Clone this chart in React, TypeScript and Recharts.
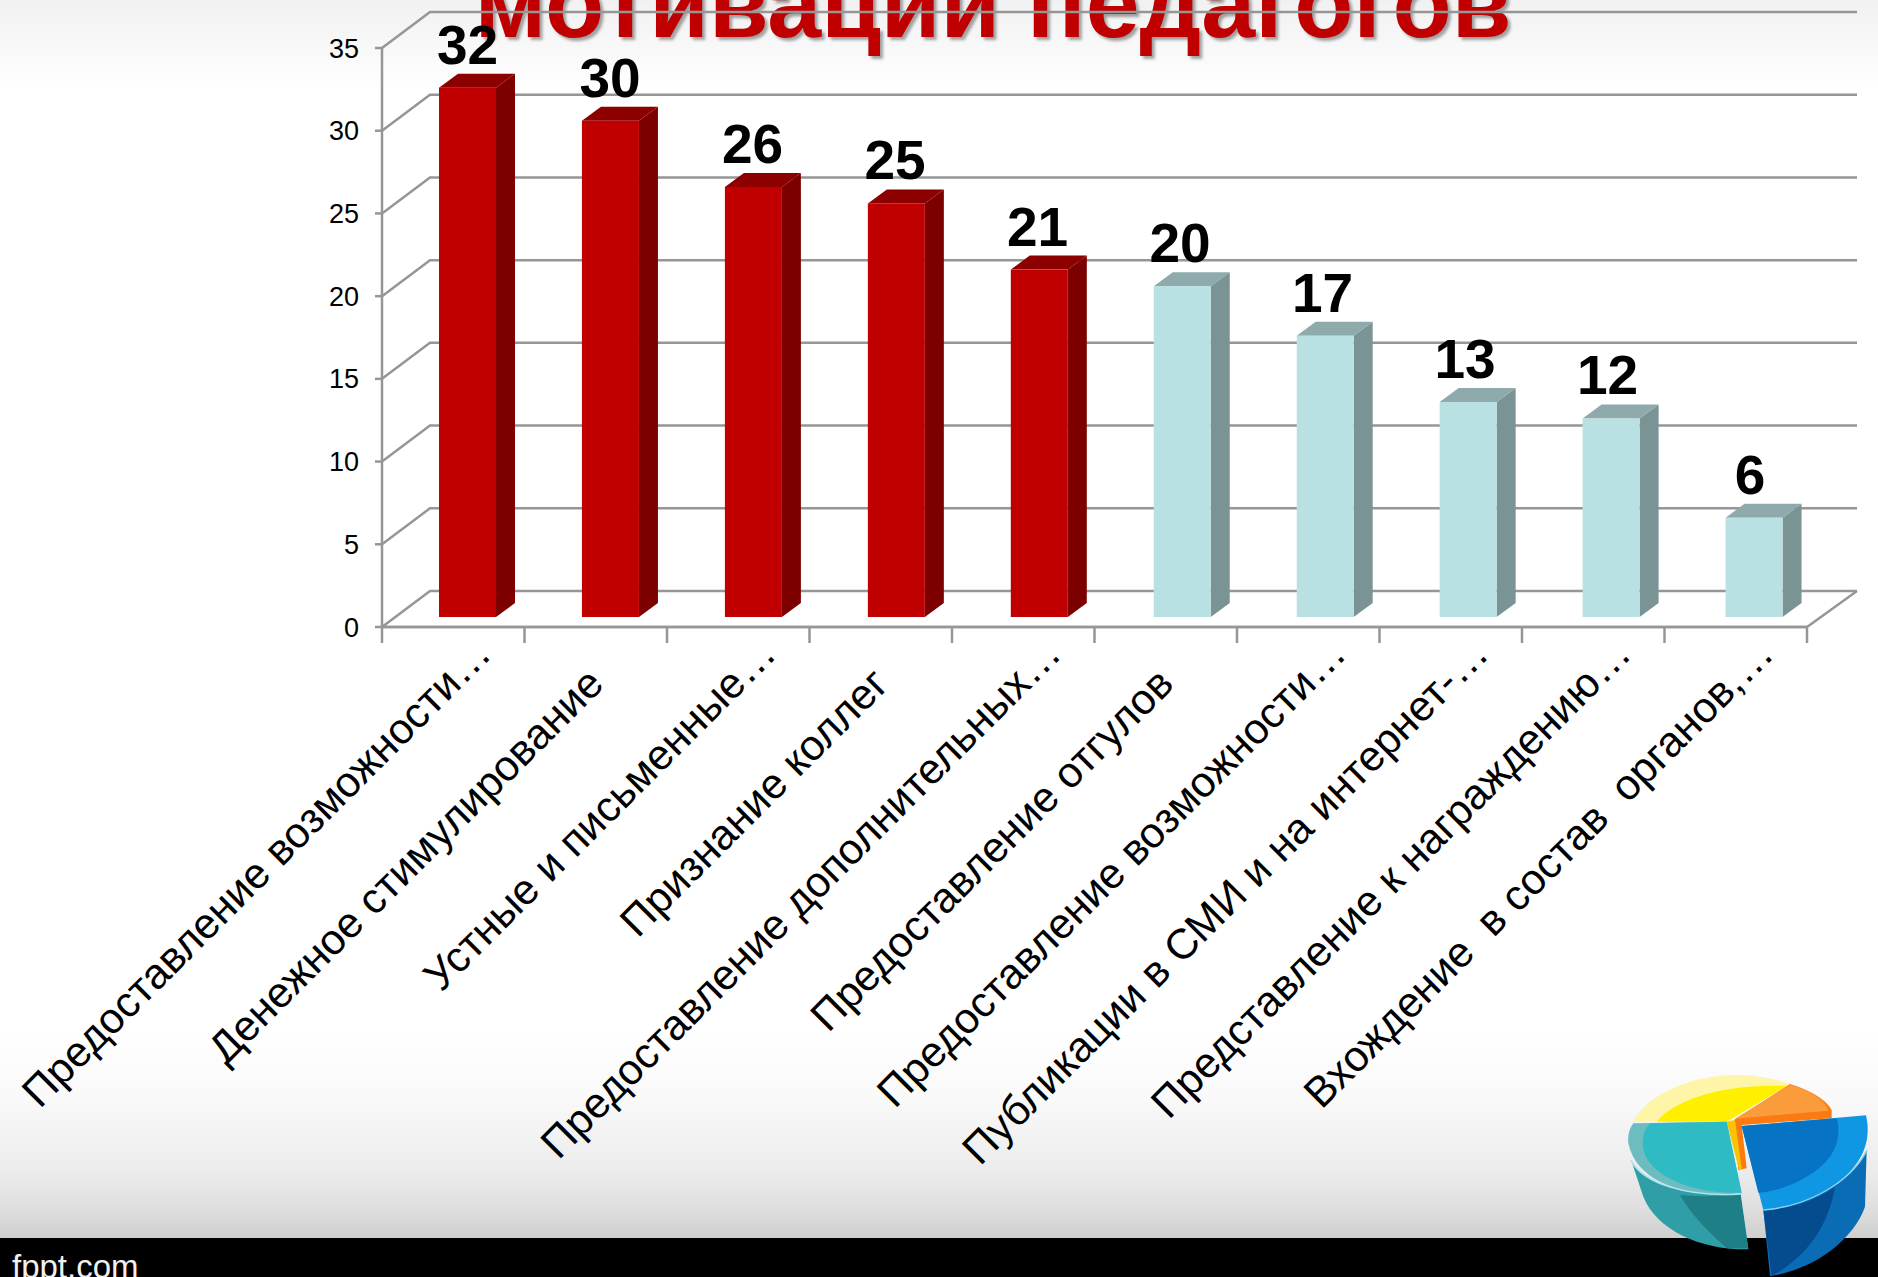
import React from "react";
import {
  BarChart,
  Bar,
  CartesianGrid,
  LabelList,
  XAxis,
  YAxis,
} from "recharts";

const categories = [
  "Предоставление возможности…",
  "Денежное стимулирование",
  "Устные и письменные…",
  "Признание коллег",
  "Предоставление дополнительных…",
  "Предоставление отгулов",
  "Предоставление возможности…",
  "Публикации в СМИ и на интернет-…",
  "Представление к награждению…",
  "Вхождение  в состав  органов,…",
];
const responses = [32, 30, 26, 25, 21, 20, 17, 13, 12, 6];
const valueTicks = [0, 5, 10, 15, 20, 25, 30, 35];
// the first five answers are drawn in red, the rest in pale teal
const redBars = 5;

const chartData = categories.map((name, i) => ({ name, value: responses[i] }));

const WIDTH = 1878;
const HEIGHT = 1277;
const PLOT = { left: 382, right: 1807, top: 48, bottom: 627 };
const BAND = (PLOT.right - PLOT.left) / categories.length;
const WALL = { dx: 48, dy: 36, end: 1857 };
const AXIS_COLOR = "#969696";
const FONT = '"Liberation Sans", Arial, sans-serif';

// columns stand halfway into the floor, so they sit right of their band centre
const columnShift = (index: number) => 14 + index * 0.45;

function Column3D(props: any) {
  const { x, y, width, height, index } = props;
  const red = index < redBars;
  const front = red ? "#c00000" : "#b9e1e3";
  const side = red ? "#7d0000" : "#7a9496";
  const top = red ? "#8c0000" : "#8faaab";
  const dx = 19;
  const dy = 14;
  const fx = x + columnShift(index);
  const fy = y - 10;
  const r = fx + width;
  const b = fy + height;
  return (
    <g>
      <polygon
        points={`${r},${fy} ${r + dx},${fy - dy} ${r + dx},${b - dy} ${r},${b}`}
        fill={side}
      />
      <polygon
        points={`${fx},${fy} ${fx + dx},${fy - dy} ${r + dx},${fy - dy} ${r},${fy}`}
        fill={top}
      />
      <rect x={fx} y={fy} width={width} height={height} fill={front} />
    </g>
  );
}

// gridline on the back wall plus the diagonal running down the side wall
function WallLine(props: any) {
  const { x1, x2, y1 } = props;
  const floor = Math.abs(y1 - PLOT.bottom) < 1;
  return (
    <g key={y1} fill="none" stroke={AXIS_COLOR} strokeWidth={2.5}>
      <polyline
        points={`${x1},${y1} ${x1 + WALL.dx},${y1 - WALL.dy} ${WALL.end},${y1 - WALL.dy}`}
      />
      {floor && (
        <polyline
          points={`${x1},${y1} ${x2},${y1} ${WALL.end},${y1 - WALL.dy}`}
        />
      )}
    </g>
  );
}

function CategoryTick(props: any) {
  const { x, y, payload, index } = props;
  const edge = x - BAND / 2;
  // truncated labels run a little further up towards the axis
  const tail = String(payload.value).endsWith("…") ? 30 : 0;
  const ax = x + 10 + tail;
  const ay = y + 45 - tail;
  return (
    <g>
      <line x1={edge} y1={y - 13} x2={edge} y2={y + 2} stroke={AXIS_COLOR} strokeWidth={2.5} />
      {index === categories.length - 1 && (
        <line
          x1={edge + BAND}
          y1={y - 13}
          x2={edge + BAND}
          y2={y + 2}
          stroke={AXIS_COLOR}
          strokeWidth={2.5}
        />
      )}
      <text
        x={ax}
        y={ay}
        textAnchor="end"
        fontFamily={FONT}
        fontSize={42.5}
        fill="#000"
        style={{ whiteSpace: "pre" }}
        transform={`rotate(-45 ${ax} ${ay})`}
      >
        {payload.value}
      </text>
    </g>
  );
}

function ValueLabel(props: any) {
  const { x, y, width, value } = props;
  return (
    <text
      x={x + width / 2 + 14}
      y={y - 34}
      textAnchor="middle"
      fontFamily={FONT}
      fontWeight="bold"
      fontSize={55}
      fill="#000"
    >
      {value}
    </text>
  );
}

function PieLogo() {
  return (
    <svg
      viewBox="0 0 1134 711"
      width={378}
      height={237}
      style={{ position: "absolute", left: 1500, top: 1040, filter: "blur(0.7px)" }}
    >
      <path d="M400 245 C440 160 590 100 720 105 C780 107 830 118 870 132 L680 245 Z" fill="#fff5a8" />
      <path d="M470 245 C520 180 670 130 860 138 L680 245 Z" fill="#fff000" />
      <path d="M870 132 C930 150 980 180 995 210 L995 235 L725 255 L740 385 L715 390 L702 240 Z" fill="#fb7a12" />
      <path d="M870 135 C930 150 975 180 985 212 L705 236 Z" fill="#fb9c3c" />
      <path d="M680 245 L705 240 L725 385 L718 392 Z" fill="#f9c400" />
      <path d="M395 365 C430 430 560 470 720 462 L745 628 C600 630 470 570 430 470 Z" fill="#2f9ea7" />
      <path d="M540 465 C590 470 660 470 722 462 L745 625 L680 625 C620 570 570 520 540 465 Z" fill="#1e7f86" />
      <path d="M400 250 L680 245 L725 460 C560 475 410 430 385 310 C382 285 390 262 400 250 Z" fill="#6dbcc0" />
      <path d="M450 250 L680 245 L725 458 C590 465 430 410 428 310 C428 285 438 262 450 250 Z" fill="#2fbbc4" />
      <path d="M392 360 C430 430 560 472 722 462" fill="none" stroke="#a9e6f0" strokeWidth={5} />
      <path d="M790 510 C920 500 1050 430 1100 330 L1095 500 C1060 600 940 690 810 708 Z" fill="#0a6cb4" />
      <path d="M790 510 C880 505 950 480 1005 440 C985 560 920 650 815 708 Z" fill="#054c8f" />
      <path d="M725 258 L1098 226 C1115 300 1090 370 1010 430 C950 475 870 505 790 510 Z" fill="#0f97e3" />
      <path d="M725 258 L1010 235 C1030 310 990 370 920 410 C870 440 820 455 775 458 Z" fill="#0673c4" />
      <path d="M790 510 C920 500 1050 430 1102 330" fill="none" stroke="#86d4f5" strokeWidth={4} />
    </svg>
  );
}

export default function App() {
  return (
    <div
      style={{
        position: "absolute",
        left: 0,
        top: 0,
        width: WIDTH,
        height: HEIGHT,
        overflow: "hidden",
        background:
          "linear-gradient(to bottom, #f1f1f1 0, #ffffff 90px, #ffffff 1030px, #f9f9f9 1100px, #ececec 1170px, #e0e0e0 1205px, #cfcfcf 1238px)",
      }}
    >
      <div
        style={{
          position: "absolute",
          left: 0,
          width: WIDTH,
          top: -52,
          textAlign: "center",
          paddingLeft: 108,
          boxSizing: "border-box",
          fontFamily: FONT,
          fontWeight: "bold",
          fontSize: 97,
          color: "#c00000",
          textShadow: "3px 3px 3px rgba(0,0,0,0.35)",
          whiteSpace: "nowrap",
        }}
      >
        мотивации педагогов
      </div>
      <div
        style={{
          position: "absolute",
          left: 0,
          top: 1238,
          width: WIDTH,
          height: 39,
          overflow: "hidden",
          background: "#000",
          color: "#f0f0f0",
          fontFamily: FONT,
          fontSize: 33,
        }}
      >
        <span style={{ position: "absolute", left: 12, top: 10 }}>fppt.com</span>
      </div>
      <PieLogo />
      <div style={{ position: "absolute", left: 0, top: 0 }}>
        <BarChart
          width={WIDTH}
          height={HEIGHT}
          data={chartData}
          margin={{ top: PLOT.top, right: WIDTH - PLOT.right, bottom: 0, left: 0 }}
          barSize={57}
        >
          <CartesianGrid vertical={false} horizontal={WallLine as any} />
          <XAxis
            dataKey="name"
            height={HEIGHT - PLOT.bottom}
            interval={0}
            tickLine={false}
            axisLine={{ stroke: AXIS_COLOR, strokeWidth: 2.5 }}
            tick={CategoryTick as any}
            tickMargin={8}
          />
          <YAxis
            width={PLOT.left}
            domain={[0, 35]}
            ticks={valueTicks}
            interval={0}
            axisLine={{ stroke: AXIS_COLOR, strokeWidth: 2.5 }}
            tickLine={{ stroke: AXIS_COLOR, strokeWidth: 2.5 }}
            tickSize={7}
            tickMargin={16}
            tick={{ fontSize: 27, fill: "#000", fontFamily: FONT }}
          />
          <Bar dataKey="value" shape={Column3D as any} isAnimationActive={false}>
            <LabelList dataKey="value" content={ValueLabel as any} />
          </Bar>
        </BarChart>
      </div>
    </div>
  );
}
